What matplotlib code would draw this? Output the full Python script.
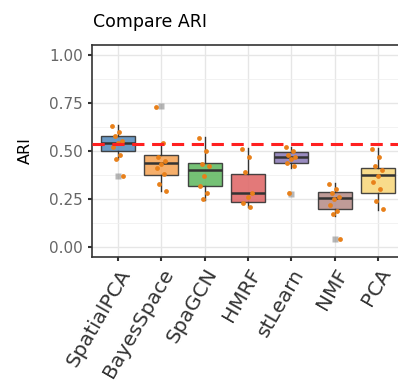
import matplotlib.pyplot as plt
import numpy as np

methods = ["SpatialPCA", "BayesSpace", "SpaGCN", "HMRF", "stLearn", "NMF", "PCA"]
colors = ["#5b8fbf", "#f5a65b", "#66bb66", "#e06b6b", "#8e7fb8", "#b8908c", "#f8d77e"]

# box statistics
q1 = [0.50, 0.375, 0.32, 0.236, 0.44, 0.196, 0.28]
med = [0.54, 0.436, 0.40, 0.283, 0.467, 0.253, 0.375]
q3 = [0.579, 0.479, 0.44, 0.38, 0.493, 0.285, 0.41]
whislo = [0.46, 0.29, 0.245, 0.21, 0.41, 0.16, 0.193]
whishi = [0.635, 0.54, 0.575, 0.514, 0.52, 0.335, 0.514]
fliers = [[0.37], [0.734], [], [], [0.276], [0.04], []]

# individual samples
points = [
    [0.63, 0.60, 0.58, 0.55, 0.54, 0.52, 0.48, 0.46, 0.37],
    [0.73, 0.54, 0.47, 0.45, 0.43, 0.41, 0.38, 0.33, 0.29],
    [0.57, 0.50, 0.43, 0.42, 0.37, 0.32, 0.28, 0.25],
    [0.51, 0.47, 0.39, 0.28, 0.26, 0.23, 0.21],
    [0.52, 0.50, 0.48, 0.47, 0.46, 0.44, 0.42, 0.28],
    [0.33, 0.30, 0.28, 0.26, 0.25, 0.22, 0.19, 0.17, 0.04],
    [0.51, 0.47, 0.42, 0.40, 0.37, 0.34, 0.30, 0.24, 0.20],
]
ref_line = 0.535

fig = plt.figure(figsize=(3.98, 3.81), dpi=100)
ax = fig.add_axes([92 / 398, 124 / 381, (404 - 92) / 398, 212 / 381])

stats = []
for i in range(len(methods)):
    stats.append(dict(med=med[i], q1=q1[i], q3=q3[i], whislo=whislo[i],
                      whishi=whishi[i], fliers=fliers[i], label=methods[i]))

pos = np.arange(1, len(methods) + 1)
bp = ax.bxp(stats, positions=pos, widths=0.78, patch_artist=True,
            showcaps=False, zorder=3,
            boxprops=dict(edgecolor="#333333", linewidth=1.0),
            medianprops=dict(color="#333333", linewidth=1.8),
            whiskerprops=dict(color="#333333", linewidth=1.0),
            flierprops=dict(marker="s", markersize=4, markerfacecolor="#888888",
                            markeredgecolor="none", alpha=0.6))
for patch, c in zip(bp["boxes"], colors):
    patch.set_facecolor(c)
    patch.set_alpha(0.9)

for i, vals in enumerate(points):
    n = len(vals)
    off = np.array([((k * 0.618) % 1 - 0.5) * 0.26 for k in range(n)])
    ax.scatter(pos[i] + off, vals, s=12, color="#e8801a", zorder=4, linewidths=0)

ax.axhline(ref_line, color="#ff2020", linestyle=(0, (4, 2.5)), linewidth=2.2, zorder=5)

ax.set_xlim(0.4, 7.6)
ax.set_ylim(-0.052, 1.052)
ax.set_yticks([0, 0.25, 0.5, 0.75, 1.0])
ax.set_yticklabels(["0.00", "0.25", "0.50", "0.75", "1.00"])
ax.set_yticks([0.125, 0.375, 0.625, 0.875], minor=True)
ax.set_xticks(pos)
ax.set_xticklabels(methods, rotation=60, ha="right", rotation_mode="anchor", fontsize=14.5, color="#4d4d4d")
ax.tick_params(axis="y", labelsize=11, colors="#333333", labelcolor="#666666", length=3, width=1.5)
ax.tick_params(axis="x", colors="#333333", length=3, width=1.5, pad=3)
ax.tick_params(axis="y", which="minor", length=0)
ax.grid(True, which="major", color="#e6e6e6", linewidth=1.0, zorder=0)
ax.grid(True, which="minor", axis="y", color="#f0f0f0", linewidth=0.6, zorder=0)
ax.set_axisbelow(True)
for sp in ax.spines.values():
    sp.set_color("#333333")
    sp.set_linewidth(1.2)

ax.set_ylabel("ARI", fontsize=11.5, labelpad=12)
fig.text(93 / 398, 1 - 22 / 381, "Compare ARI", fontsize=12.5, va="center", ha="left")

fig.savefig("out.png", dpi=100)
